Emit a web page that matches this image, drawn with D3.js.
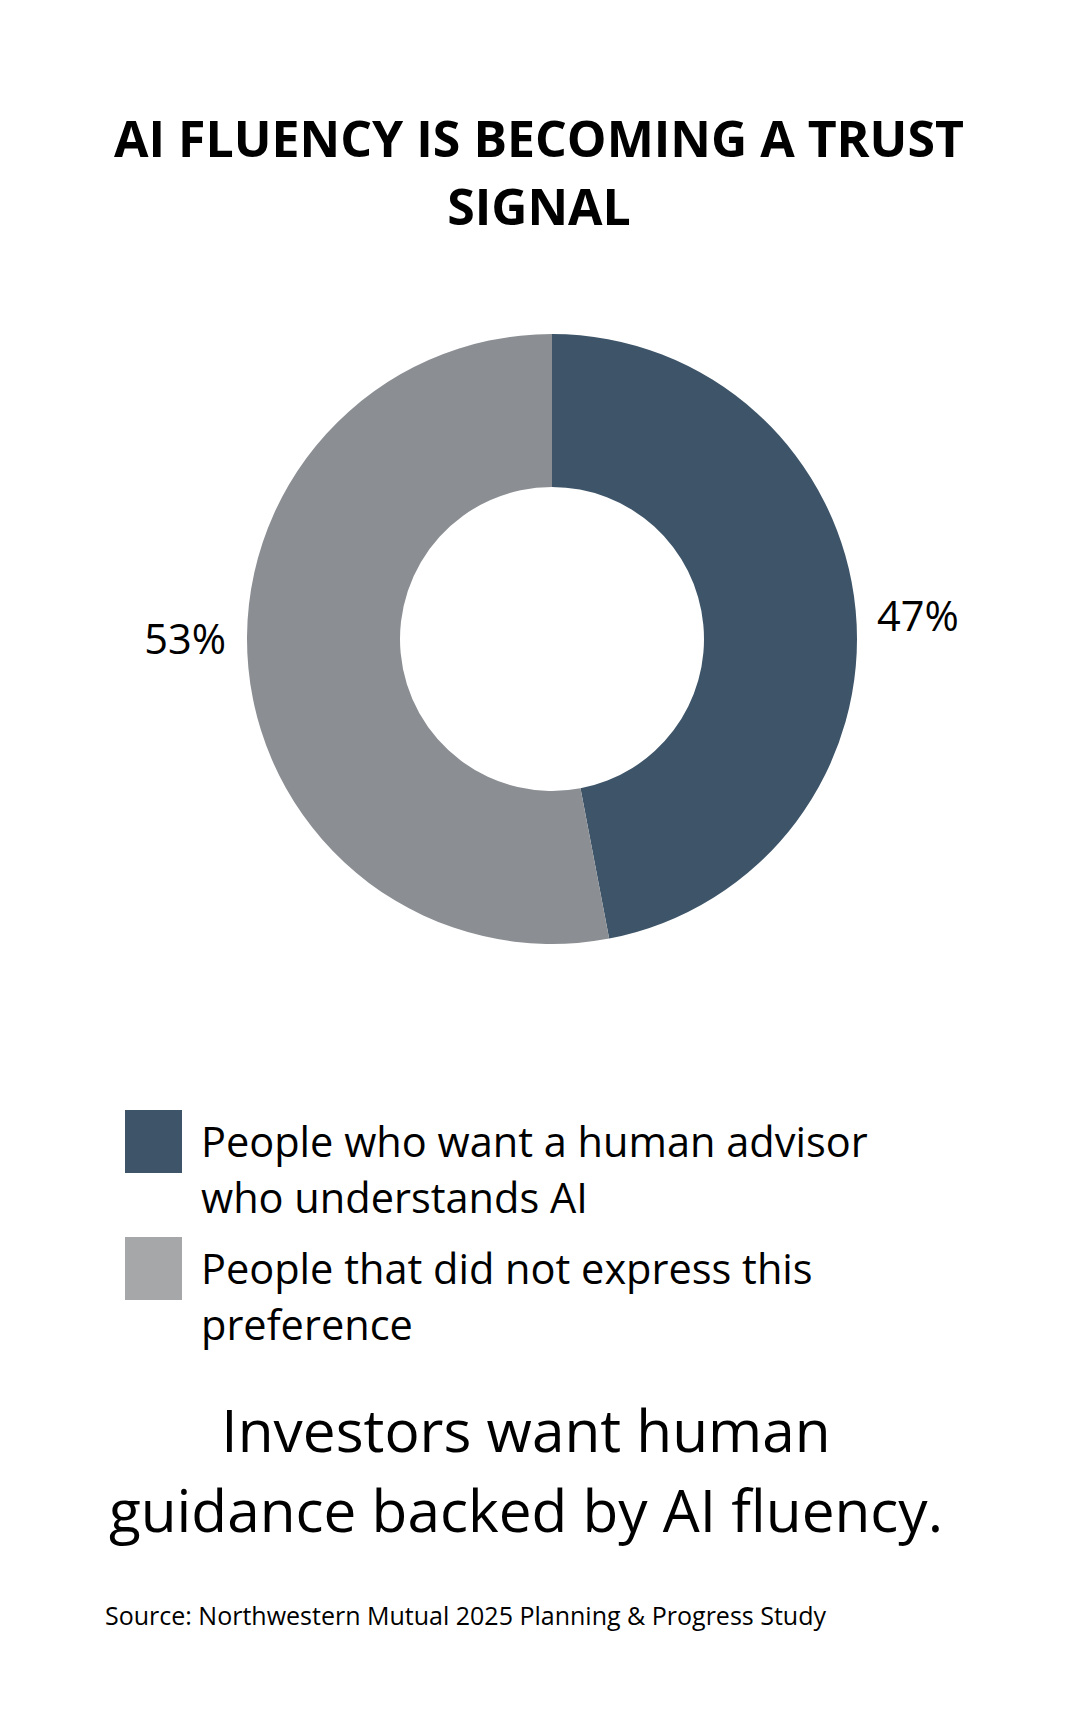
<!DOCTYPE html>
<html>
<head>
<meta charset="utf-8">
<script src="https://cdn.jsdelivr.net/npm/d3@7"></script>
<style>
  html, body { margin: 0; padding: 0; background: #fff; }
  text { font-family: "Open Sans", "Noto Sans", sans-serif; fill: #000; }
</style>
</head>
<body>
<div id="chart"></div>
<script>
// data
const categories = ["People who want a human advisor who understands AI", "People that did not express this preference"];
const values = [47, 53];
const legendLines = [["People who want a human advisor", "who understands AI"], ["People that did not express this", "preference"]];
const sliceColors = ["#3e5569", "#8b8f93"];
const legendColors = ["#3e5569", "#a6a7a9"];
const titleLines = ["AI FLUENCY IS BECOMING A TRUST", "SIGNAL"];
const takeawayLines = ["Investors want human", "guidance backed by AI fluency."];
const sourceText = "Source: Northwestern Mutual 2025 Planning & Progress Study";

const width = 1078, height = 1715;
const svg = d3.select("#chart").append("svg")
  .attr("width", width).attr("height", height);

// title
svg.append("g").selectAll("text")
  .data(titleLines)
  .enter().append("text")
  .attr("x", width / 2)
  .attr("y", (d, i) => 157 + i * 68)
  .attr("text-anchor", "middle")
  .attr("font-size", 50)
  .attr("font-weight", 700)
  .text(d => d);

// donut
const cx = 552, cy = 639, outerR = 305, innerR = 152;
const pie = d3.pie().sort(null).value(d => d);
const arcs = pie(values);
const arc = d3.arc().innerRadius(innerR).outerRadius(outerR);

const donut = svg.append("g").attr("transform", `translate(${cx},${cy})`);
donut.selectAll("path")
  .data(arcs)
  .enter().append("path")
  .attr("d", arc)
  .attr("fill", (d, i) => sliceColors[i]);

// percentage labels beside the ring
const midAngle = d => (d.startAngle + d.endAngle) / 2;
donut.selectAll("text")
  .data(arcs)
  .enter().append("text")
  .attr("font-size", 41.5)
  .attr("text-anchor", d => midAngle(d) < Math.PI ? "start" : "end")
  .attr("x", d => midAngle(d) < Math.PI ? outerR + 20 : -outerR - 21)
  .attr("y", d => -122 * Math.cos(midAngle(d)) + 3.5)
  .text(d => d.data + "%");

// legend
const legend = svg.append("g").selectAll("g")
  .data(categories)
  .enter().append("g")
  .attr("transform", (d, i) => `translate(125,${1110 + i * 127})`);

legend.append("rect")
  .attr("width", 57).attr("height", 63)
  .attr("fill", (d, i) => legendColors[i]);

legend.append("text")
  .attr("font-size", 41.5)
  .selectAll("tspan")
  .data((d, i) => legendLines[i])
  .enter().append("tspan")
  .attr("x", 76)
  .attr("y", (d, j) => 47 + j * 56)
  .text(d => d);

// takeaway
svg.append("g").selectAll("text")
  .data(takeawayLines)
  .enter().append("text")
  .attr("x", 526)
  .attr("y", (d, i) => 1452 + i * 80)
  .attr("text-anchor", "middle")
  .attr("font-size", 58.5)
  .text(d => d);

// source
svg.append("text")
  .attr("x", 105).attr("y", 1625)
  .attr("font-size", 25)
  .text(sourceText);
</script>
</body>
</html>
